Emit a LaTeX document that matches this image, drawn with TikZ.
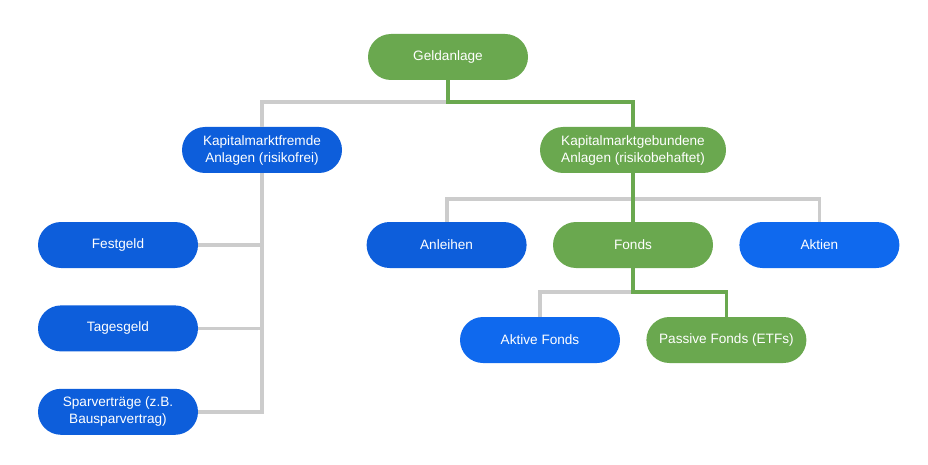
\documentclass[tikz,border=0pt]{standalone}
\usepackage{fontspec}
\setmainfont{Liberation Sans}
\usetikzlibrary{positioning}
\definecolor{darkblue}{HTML}{0D5EDB}
\definecolor{lightblue}{HTML}{0F69EE}
\definecolor{darkgreen}{HTML}{6AA84F}
\definecolor{linegray}{HTML}{CCCCCC}
\tikzset {
  % rounded box for every item
  main/.style = {rounded corners=23pt, minimum width=160pt, minimum height=46pt,
    inner sep=2pt, text=white, align=center, font=\fontsize{13.6}{17}\selectfont},
  % colours of the boxes
  safe/.style={main, fill=darkblue},
  market/.style={main, fill=lightblue},
  chosen/.style={main, fill=darkgreen},
  % connectors
  plain/.style={linegray, line width=3.8pt, line join=miter},
  path/.style={darkgreen, line width=3.8pt, line join=miter},
}
\begin{document}
\begin{tikzpicture}[x=1pt, y=-1pt, node distance=26pt]
      \useasboundingbox (0,0) rectangle (928,465);

      \node[chosen] (geld) at (448,57) {Geldanlage};
      \node[safe] (fremd) at (262,150) {Kapitalmarktfremde\\Anlagen (risikofrei)};
      \node[chosen, minimum width=186pt] (gebunden) at (633,150) {Kapitalmarktgebundene\\Anlagen (risikobehaftet)};

      \node[safe] (festgeld) at (118,245) {Festgeld};
      \node[safe] (tages) [below=37pt of festgeld] {Tagesgeld};
      \node[safe] (spar) [below=37pt of tages] {Sparverträge (z.B.\\Bausparvertrag)};

      \node[chosen] (fonds) at (633,245) {Fonds};
      \node[safe] (anleihen) [left=of fonds] {Anleihen};
      \node[market] (aktien) [right=of fonds] {Aktien};
      \node[market] (aktiv) at (540,340) {Aktive Fonds};
      \node[chosen] (passiv) [right=of aktiv] {Passive Fonds (ETFs)};

      \coordinate (top) at (448,102);
      \coordinate (mid) at (633,199);
      \coordinate (low) at (633,292);

      \draw [plain] (top) -| (fremd);
      \foreach \n in {festgeld,tages,spar}
        \draw [plain] (fremd) |- (\n);
      \draw [plain] (mid) -| (anleihen);
      \draw [plain] (mid) -| (aktien);
      \draw [plain] (low) -| (aktiv);

      \draw [path] (geld) -- (top) -| (gebunden);
      \draw [path] (gebunden) -- (fonds);
      \draw [path] (fonds) -- (low) -| (passiv);
    \end{tikzpicture}
\end{document}
